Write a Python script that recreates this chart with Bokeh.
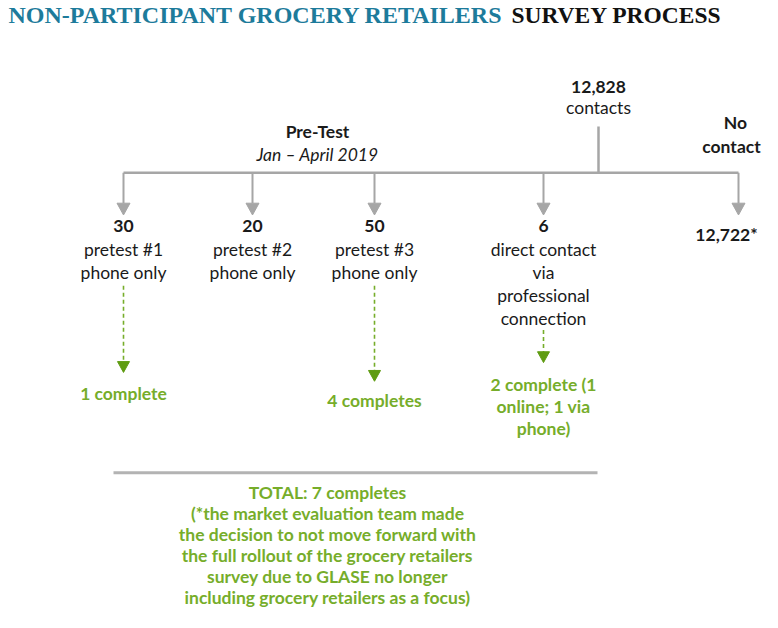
from bokeh.plotting import figure
from bokeh.models import Range1d
from bokeh.embed import file_html
from bokeh.resources import INLINE
from bokeh.core.properties import value

# ---------------- data ----------------
title_main = "NON-PARTICIPANT GROCERY RETAILERS"
title_rest = "SURVEY PROCESS"
root_count = "12,828"
root_label = "contacts"
pretest_title = "Pre-Test"
pretest_dates = "Jan \u2013 April 2019"
nocontact_label = ["No", "contact"]
branch_counts = ["30", "20", "50", "6", "12,722*"]
branch_labels = [
    ["pretest #1", "phone only"],
    ["pretest #2", "phone only"],
    ["pretest #3", "phone only"],
    ["direct contact", "via", "professional", "connection"],
    [],
]
branch_completes = [
    ["1 complete"],
    [],
    ["4 completes"],
    ["2 complete (1", "online; 1 via", "phone)"],
    [],
]
total_lines = [
    "TOTAL: 7 completes",
    "(*the market evaluation team made",
    "the decision to not move forward with",
    "the full rollout of the grocery retailers",
    "survey due to GLASE no longer",
    "including grocery retailers as a focus)",
]

# ---------------- layout ----------------
branch_x = [123, 252, 374, 543, 738]
count_dx = [0, 0, 0, 0, -12]
root_x = 598
bar_y = 175
arrow_top = 206
arrow_tip = 218
count_y = [229, 229, 229, 229, 238]
label_y0 = 253
line_h = 23.5
green_start = [290, None, 290, 335, None]
green_tip = [378, None, 387, 368, None]
complete_y0 = [399, None, 407, 390, None]
total_y0 = 500
total_h = 21.3

GRAY = "#a6a6a6"
GREEN_TXT = "#76ad2a"
GREEN_ARROW = "#5f9c12"
TEAL = "#1d7b9b"
INK = "#1a1a1a"
FONT = value("Lato")
FS = "17.5px"

p = figure(width=762, height=612, output_backend="svg", toolbar_location=None,
           x_axis_location=None, y_axis_location=None,
           x_range=Range1d(0, 762), y_range=Range1d(622, 0),
           min_border=0, outline_line_color=None, background_fill_color="white")
p.grid.visible = False

# title
p.text(x=[8], y=[15], text=[title_main], text_font=value("Liberation Serif"),
       text_font_style="bold", text_font_size="24px", text_color=TEAL,
       text_align="left", text_baseline="middle")
p.text(x=[721], y=[15], text=[title_rest], text_font=value("Liberation Serif"),
       text_font_style="bold", text_font_size="23.5px", text_color="#111111",
       text_align="right", text_baseline="middle")

# root
p.text(x=[root_x], y=[88], text=[root_count], text_font=FONT, text_font_style="bold",
       text_font_size=FS, text_color=INK, text_align="center", text_baseline="middle")
p.text(x=[root_x], y=[109], text=[root_label], text_font=FONT,
       text_font_size=FS, text_color=INK, text_align="center", text_baseline="middle")

# group labels
p.text(x=[317], y=[133], text=[pretest_title], text_font=FONT, text_font_style="bold",
       text_font_size=FS, text_color=INK, text_align="center", text_baseline="middle")
p.text(x=[317], y=[157], text=[pretest_dates], text_font=FONT, text_font_style="italic",
       text_font_size=FS, text_color=INK, text_align="center", text_baseline="middle")
p.text(x=[735, 731], y=[124, 148], text=nocontact_label, text_font=FONT,
       text_font_style="bold", text_font_size=FS, text_color=INK,
       text_align="center", text_baseline="middle")

# gray connectors
p.segment(x0=[root_x, branch_x[0]], y0=[128, bar_y], x1=[root_x, branch_x[-1]], y1=[bar_y, bar_y],
          line_color=GRAY, line_width=2.5)
p.segment(x0=branch_x, y0=[bar_y] * len(branch_x), x1=branch_x, y1=[arrow_top] * len(branch_x),
          line_color=GRAY, line_width=2)
p.patches(xs=[[x - 6.5, x + 6.5, x] for x in branch_x],
          ys=[[arrow_top, arrow_top, arrow_tip]] * len(branch_x),
          fill_color=GRAY, line_color=GRAY)

# branch counts and labels
p.text(x=[x + d for x, d in zip(branch_x, count_dx)], y=count_y, text=branch_counts,
       text_font=FONT, text_font_style="bold",
       text_font_size=FS, text_color=INK, text_align="center", text_baseline="middle")
lx, ly, lt = [], [], []
for x, labels in zip(branch_x, branch_labels):
    for i, t in enumerate(labels):
        lx.append(x); ly.append(label_y0 + i * line_h); lt.append(t)
p.text(x=lx, y=ly, text=lt, text_font=FONT, text_font_size=FS, text_color=INK,
       text_align="center", text_baseline="middle")

# green dashed arrows + completes
gx0, gy0, gy1, tri_x, tri_y = [], [], [], [], []
cx, cy, ct = [], [], []
for x, s, tip, c0, comp in zip(branch_x, green_start, green_tip, complete_y0, branch_completes):
    if s is None:
        continue
    gx0.append(x); gy0.append(s); gy1.append(tip - 10)
    tri_x.append([x - 6, x + 6, x]); tri_y.append([tip - 11, tip - 11, tip])
    for i, t in enumerate(comp):
        cx.append(x); cy.append(c0 + i * 22.5); ct.append(t)
p.segment(x0=gx0, y0=gy0, x1=gx0, y1=gy1, line_color=GREEN_TXT, line_width=1.6, line_dash="4 3")
p.patches(xs=tri_x, ys=tri_y, fill_color=GREEN_ARROW, line_color=GREEN_ARROW)
p.text(x=cx, y=cy, text=ct, text_font=FONT, text_font_style="bold", text_font_size=FS,
       text_color=GREEN_TXT, text_align="center", text_baseline="middle")

# total
p.segment(x0=[113], y0=[480], x1=[597], y1=[480], line_color="#b3b3b3", line_width=3)
p.text(x=[327] * len(total_lines), y=[total_y0 + i * total_h for i in range(len(total_lines))],
       text=total_lines, text_font=FONT, text_font_style="bold", text_font_size=FS,
       text_color=GREEN_TXT, text_align="center", text_baseline="middle")

open("out.html", "w").write(file_html(p, INLINE))
